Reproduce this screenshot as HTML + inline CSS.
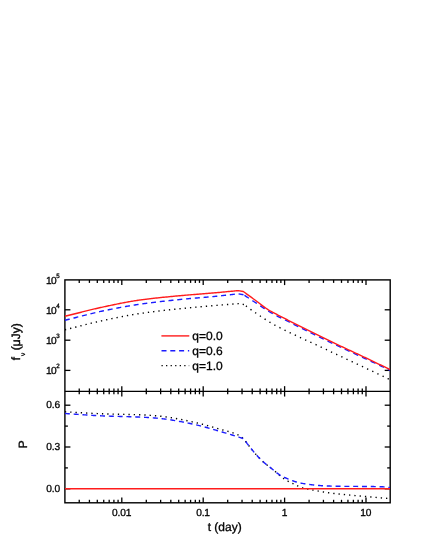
<!DOCTYPE html><html><head><meta charset="utf-8"><style>html,body{margin:0;padding:0;background:#fff}body{width:432px;height:559px;position:relative;overflow:hidden;font-family:"Liberation Sans",sans-serif}</style></head><body><svg width="432" height="559" viewBox="0 0 432 559" style="position:absolute;left:0;top:0;will-change:transform">
<g stroke="#000" stroke-width="1.4" fill="none" stroke-linecap="butt">
<rect x="64.9" y="279.9" width="325.30" height="222.90"/>
<line x1="64.9" y1="391.35" x2="390.2" y2="391.35" stroke-width="1.1"/>
</g>
<g stroke="#000" stroke-width="1.3" fill="none">
<line x1="79.24" y1="279.9" x2="79.24" y2="282.9"/>
<line x1="79.24" y1="388.45000000000005" x2="79.24" y2="394.25"/>
<line x1="79.24" y1="502.8" x2="79.24" y2="499.8"/>
<line x1="89.41" y1="279.9" x2="89.41" y2="282.9"/>
<line x1="89.41" y1="388.45000000000005" x2="89.41" y2="394.25"/>
<line x1="89.41" y1="502.8" x2="89.41" y2="499.8"/>
<line x1="97.30" y1="279.9" x2="97.30" y2="282.9"/>
<line x1="97.30" y1="388.45000000000005" x2="97.30" y2="394.25"/>
<line x1="97.30" y1="502.8" x2="97.30" y2="499.8"/>
<line x1="103.74" y1="279.9" x2="103.74" y2="282.9"/>
<line x1="103.74" y1="388.45000000000005" x2="103.74" y2="394.25"/>
<line x1="103.74" y1="502.8" x2="103.74" y2="499.8"/>
<line x1="109.19" y1="279.9" x2="109.19" y2="282.9"/>
<line x1="109.19" y1="388.45000000000005" x2="109.19" y2="394.25"/>
<line x1="109.19" y1="502.8" x2="109.19" y2="499.8"/>
<line x1="113.91" y1="279.9" x2="113.91" y2="282.9"/>
<line x1="113.91" y1="388.45000000000005" x2="113.91" y2="394.25"/>
<line x1="113.91" y1="502.8" x2="113.91" y2="499.8"/>
<line x1="118.08" y1="279.9" x2="118.08" y2="282.9"/>
<line x1="118.08" y1="388.45000000000005" x2="118.08" y2="394.25"/>
<line x1="118.08" y1="502.8" x2="118.08" y2="499.8"/>
<line x1="121.80" y1="279.9" x2="121.80" y2="285.09999999999997"/>
<line x1="121.80" y1="386.15000000000003" x2="121.80" y2="396.55"/>
<line x1="121.80" y1="502.8" x2="121.80" y2="497.6"/>
<line x1="146.30" y1="279.9" x2="146.30" y2="282.9"/>
<line x1="146.30" y1="388.45000000000005" x2="146.30" y2="394.25"/>
<line x1="146.30" y1="502.8" x2="146.30" y2="499.8"/>
<line x1="160.64" y1="279.9" x2="160.64" y2="282.9"/>
<line x1="160.64" y1="388.45000000000005" x2="160.64" y2="394.25"/>
<line x1="160.64" y1="502.8" x2="160.64" y2="499.8"/>
<line x1="170.81" y1="279.9" x2="170.81" y2="282.9"/>
<line x1="170.81" y1="388.45000000000005" x2="170.81" y2="394.25"/>
<line x1="170.81" y1="502.8" x2="170.81" y2="499.8"/>
<line x1="178.70" y1="279.9" x2="178.70" y2="282.9"/>
<line x1="178.70" y1="388.45000000000005" x2="178.70" y2="394.25"/>
<line x1="178.70" y1="502.8" x2="178.70" y2="499.8"/>
<line x1="185.14" y1="279.9" x2="185.14" y2="282.9"/>
<line x1="185.14" y1="388.45000000000005" x2="185.14" y2="394.25"/>
<line x1="185.14" y1="502.8" x2="185.14" y2="499.8"/>
<line x1="190.59" y1="279.9" x2="190.59" y2="282.9"/>
<line x1="190.59" y1="388.45000000000005" x2="190.59" y2="394.25"/>
<line x1="190.59" y1="502.8" x2="190.59" y2="499.8"/>
<line x1="195.31" y1="279.9" x2="195.31" y2="282.9"/>
<line x1="195.31" y1="388.45000000000005" x2="195.31" y2="394.25"/>
<line x1="195.31" y1="502.8" x2="195.31" y2="499.8"/>
<line x1="199.48" y1="279.9" x2="199.48" y2="282.9"/>
<line x1="199.48" y1="388.45000000000005" x2="199.48" y2="394.25"/>
<line x1="199.48" y1="502.8" x2="199.48" y2="499.8"/>
<line x1="203.20" y1="279.9" x2="203.20" y2="285.09999999999997"/>
<line x1="203.20" y1="386.15000000000003" x2="203.20" y2="396.55"/>
<line x1="203.20" y1="502.8" x2="203.20" y2="497.6"/>
<line x1="227.70" y1="279.9" x2="227.70" y2="282.9"/>
<line x1="227.70" y1="388.45000000000005" x2="227.70" y2="394.25"/>
<line x1="227.70" y1="502.8" x2="227.70" y2="499.8"/>
<line x1="242.04" y1="279.9" x2="242.04" y2="282.9"/>
<line x1="242.04" y1="388.45000000000005" x2="242.04" y2="394.25"/>
<line x1="242.04" y1="502.8" x2="242.04" y2="499.8"/>
<line x1="252.21" y1="279.9" x2="252.21" y2="282.9"/>
<line x1="252.21" y1="388.45000000000005" x2="252.21" y2="394.25"/>
<line x1="252.21" y1="502.8" x2="252.21" y2="499.8"/>
<line x1="260.10" y1="279.9" x2="260.10" y2="282.9"/>
<line x1="260.10" y1="388.45000000000005" x2="260.10" y2="394.25"/>
<line x1="260.10" y1="502.8" x2="260.10" y2="499.8"/>
<line x1="266.54" y1="279.9" x2="266.54" y2="282.9"/>
<line x1="266.54" y1="388.45000000000005" x2="266.54" y2="394.25"/>
<line x1="266.54" y1="502.8" x2="266.54" y2="499.8"/>
<line x1="271.99" y1="279.9" x2="271.99" y2="282.9"/>
<line x1="271.99" y1="388.45000000000005" x2="271.99" y2="394.25"/>
<line x1="271.99" y1="502.8" x2="271.99" y2="499.8"/>
<line x1="276.71" y1="279.9" x2="276.71" y2="282.9"/>
<line x1="276.71" y1="388.45000000000005" x2="276.71" y2="394.25"/>
<line x1="276.71" y1="502.8" x2="276.71" y2="499.8"/>
<line x1="280.88" y1="279.9" x2="280.88" y2="282.9"/>
<line x1="280.88" y1="388.45000000000005" x2="280.88" y2="394.25"/>
<line x1="280.88" y1="502.8" x2="280.88" y2="499.8"/>
<line x1="284.60" y1="279.9" x2="284.60" y2="285.09999999999997"/>
<line x1="284.60" y1="386.15000000000003" x2="284.60" y2="396.55"/>
<line x1="284.60" y1="502.8" x2="284.60" y2="497.6"/>
<line x1="309.10" y1="279.9" x2="309.10" y2="282.9"/>
<line x1="309.10" y1="388.45000000000005" x2="309.10" y2="394.25"/>
<line x1="309.10" y1="502.8" x2="309.10" y2="499.8"/>
<line x1="323.44" y1="279.9" x2="323.44" y2="282.9"/>
<line x1="323.44" y1="388.45000000000005" x2="323.44" y2="394.25"/>
<line x1="323.44" y1="502.8" x2="323.44" y2="499.8"/>
<line x1="333.61" y1="279.9" x2="333.61" y2="282.9"/>
<line x1="333.61" y1="388.45000000000005" x2="333.61" y2="394.25"/>
<line x1="333.61" y1="502.8" x2="333.61" y2="499.8"/>
<line x1="341.50" y1="279.9" x2="341.50" y2="282.9"/>
<line x1="341.50" y1="388.45000000000005" x2="341.50" y2="394.25"/>
<line x1="341.50" y1="502.8" x2="341.50" y2="499.8"/>
<line x1="347.94" y1="279.9" x2="347.94" y2="282.9"/>
<line x1="347.94" y1="388.45000000000005" x2="347.94" y2="394.25"/>
<line x1="347.94" y1="502.8" x2="347.94" y2="499.8"/>
<line x1="353.39" y1="279.9" x2="353.39" y2="282.9"/>
<line x1="353.39" y1="388.45000000000005" x2="353.39" y2="394.25"/>
<line x1="353.39" y1="502.8" x2="353.39" y2="499.8"/>
<line x1="358.11" y1="279.9" x2="358.11" y2="282.9"/>
<line x1="358.11" y1="388.45000000000005" x2="358.11" y2="394.25"/>
<line x1="358.11" y1="502.8" x2="358.11" y2="499.8"/>
<line x1="362.28" y1="279.9" x2="362.28" y2="282.9"/>
<line x1="362.28" y1="388.45000000000005" x2="362.28" y2="394.25"/>
<line x1="362.28" y1="502.8" x2="362.28" y2="499.8"/>
<line x1="366.00" y1="279.9" x2="366.00" y2="285.09999999999997"/>
<line x1="366.00" y1="386.15000000000003" x2="366.00" y2="396.55"/>
<line x1="366.00" y1="502.8" x2="366.00" y2="497.6"/>
<line x1="64.9" y1="309.80" x2="70.4" y2="309.80"/>
<line x1="390.2" y1="309.80" x2="384.7" y2="309.80"/>
<line x1="64.9" y1="340.20" x2="70.4" y2="340.20"/>
<line x1="390.2" y1="340.20" x2="384.7" y2="340.20"/>
<line x1="64.9" y1="370.40" x2="70.4" y2="370.40"/>
<line x1="390.2" y1="370.40" x2="384.7" y2="370.40"/>
<line x1="64.9" y1="405.20" x2="70.4" y2="405.20"/>
<line x1="390.2" y1="405.20" x2="384.7" y2="405.20"/>
<line x1="64.9" y1="426.10" x2="67.9" y2="426.10"/>
<line x1="390.2" y1="426.10" x2="387.2" y2="426.10"/>
<line x1="64.9" y1="447.00" x2="70.4" y2="447.00"/>
<line x1="390.2" y1="447.00" x2="384.7" y2="447.00"/>
<line x1="64.9" y1="467.90" x2="67.9" y2="467.90"/>
<line x1="390.2" y1="467.90" x2="387.2" y2="467.90"/>
<line x1="64.9" y1="488.80" x2="70.4" y2="488.80"/>
<line x1="390.2" y1="488.80" x2="384.7" y2="488.80"/>
</g>
<clipPath id="c1"><rect x="64.9" y="279.9" width="325.30" height="111.45"/></clipPath>
<clipPath id="c2"><rect x="64.9" y="391.35" width="325.30" height="111.45"/></clipPath>
<g clip-path="url(#c1)" fill="none" stroke-width="1.4" stroke-linejoin="round">
<path d="M64.90,329.80 L65.92,329.55 L66.94,329.30 L67.96,329.05 L68.98,328.79 L69.99,328.54 L71.01,328.28 L72.03,328.03 L73.05,327.77 L74.07,327.51 L75.09,327.25 L76.11,326.99 L77.13,326.73 L78.15,326.48 L79.16,326.22 L80.18,325.96 L81.20,325.70 L82.22,325.44 L83.24,325.18 L84.26,324.93 L85.28,324.67 L86.30,324.42 L87.32,324.16 L88.34,323.91 L89.35,323.66 L90.37,323.41 L91.39,323.17 L92.41,322.92 L93.43,322.68 L94.45,322.44 L95.47,322.20 L96.49,321.96 L97.51,321.73 L98.52,321.50 L99.54,321.27 L100.56,321.04 L101.58,320.82 L102.60,320.60 L103.61,320.38 L104.62,320.17 L105.63,319.95 L106.64,319.74 L107.65,319.53 L108.66,319.31 L109.68,319.10 L110.69,318.89 L111.70,318.68 L112.71,318.47 L113.72,318.26 L114.73,318.05 L115.74,317.85 L116.75,317.64 L117.76,317.44 L118.77,317.24 L119.78,317.04 L120.79,316.84 L121.81,316.64 L122.82,316.45 L123.83,316.26 L124.84,316.06 L125.85,315.88 L126.86,315.69 L127.87,315.50 L128.88,315.32 L129.89,315.14 L130.90,314.97 L131.91,314.79 L132.92,314.62 L133.94,314.45 L134.95,314.29 L135.96,314.12 L136.97,313.96 L137.98,313.80 L138.99,313.65 L140.00,313.50 L141.00,313.35 L142.00,313.21 L143.00,313.07 L144.00,312.93 L145.00,312.79 L146.00,312.65 L147.00,312.51 L148.00,312.38 L149.00,312.25 L150.00,312.11 L151.00,311.99 L152.00,311.86 L153.00,311.73 L154.00,311.61 L155.00,311.48 L156.00,311.36 L157.00,311.24 L158.00,311.12 L159.00,311.00 L160.00,310.88 L161.00,310.76 L162.00,310.65 L163.00,310.53 L164.00,310.42 L165.00,310.31 L166.00,310.19 L167.00,310.08 L168.00,309.97 L169.00,309.86 L170.00,309.76 L171.00,309.65 L172.00,309.54 L173.00,309.43 L174.00,309.33 L175.00,309.22 L176.00,309.12 L177.00,309.01 L178.00,308.91 L179.00,308.80 L180.00,308.70 L181.00,308.60 L182.00,308.49 L183.00,308.39 L184.00,308.29 L185.00,308.19 L186.00,308.10 L187.00,308.00 L188.00,307.90 L189.00,307.81 L190.00,307.71 L191.00,307.62 L192.00,307.52 L193.00,307.43 L194.00,307.34 L195.00,307.24 L196.00,307.15 L197.00,307.06 L198.00,306.97 L199.00,306.88 L200.00,306.79 L201.00,306.70 L202.00,306.62 L203.00,306.53 L204.00,306.44 L205.00,306.35 L206.00,306.27 L207.00,306.18 L208.00,306.10 L209.00,306.01 L210.00,305.92 L211.00,305.84 L212.00,305.75 L213.00,305.67 L214.00,305.58 L215.00,305.50 L216.01,305.41 L217.02,305.33 L218.04,305.25 L219.05,305.16 L220.06,305.08 L221.07,305.00 L222.08,304.92 L223.10,304.84 L224.11,304.76 L225.12,304.68 L226.13,304.60 L227.14,304.52 L228.16,304.44 L229.17,304.37 L230.18,304.29 L231.19,304.21 L232.20,304.13 L233.22,304.05 L234.23,303.97 L235.24,303.90 L236.25,303.82 L237.26,303.74 L238.28,303.66 L239.29,303.58 L240.30,303.50 L244.30,304.70" stroke="#000" stroke-dasharray="1.3 4.0"/>
<path d="M244.30,304.70 L245.35,305.49 L246.40,306.28 L247.45,307.07 L248.50,307.86 L249.55,308.64 L250.60,309.40 L251.64,310.14 L252.68,310.87 L253.72,311.59 L254.76,312.30 L255.80,313.00 L256.82,313.69 L257.84,314.38 L258.86,315.08 L259.88,315.77 L260.90,316.47 L261.92,317.16 L262.94,317.84 L263.96,318.52 L264.98,319.20 L266.00,319.86 L267.02,320.51 L268.04,321.16 L269.06,321.79 L270.08,322.40 L271.10,323.00 L272.14,323.60 L273.18,324.18 L274.22,324.75 L275.26,325.31 L276.30,325.87 L277.34,326.41 L278.38,326.95 L279.42,327.48 L280.46,328.01 L281.50,328.53 L282.54,329.04 L283.58,329.56 L284.62,330.07 L285.66,330.59 L286.70,331.10 L287.71,331.60 L288.72,332.09 L289.73,332.58 L290.74,333.07 L291.75,333.55 L292.75,334.03 L293.76,334.51 L294.77,334.99 L295.78,335.46 L296.79,335.93 L297.80,336.40 L298.81,336.87 L299.82,337.33 L300.83,337.80 L301.84,338.26 L302.85,338.72 L303.85,339.19 L304.86,339.65 L305.87,340.11 L306.88,340.57 L307.89,341.03 L308.90,341.49 L309.91,341.95 L310.92,342.41 L311.93,342.87 L312.94,343.33 L313.95,343.79 L314.95,344.26 L315.96,344.72 L316.97,345.19 L317.98,345.66 L318.99,346.13 L320.00,346.60 L321.00,347.07 L322.00,347.54 L323.00,348.01 L324.00,348.48 L325.00,348.95 L326.00,349.42 L327.00,349.89 L328.00,350.37 L329.00,350.84 L330.00,351.31 L331.00,351.78 L332.00,352.26 L333.00,352.73 L334.00,353.20 L335.00,353.68 L336.00,354.15 L337.00,354.62 L338.00,355.09 L339.00,355.57 L340.00,356.04 L341.00,356.51 L342.00,356.98 L343.00,357.46 L344.00,357.93 L345.00,358.40 L346.01,358.88 L347.02,359.35 L348.03,359.83 L349.04,360.30 L350.05,360.78 L351.06,361.25 L352.07,361.72 L353.08,362.20 L354.09,362.67 L355.10,363.14 L356.11,363.62 L357.12,364.09 L358.13,364.56 L359.14,365.04 L360.15,365.51 L361.16,365.98 L362.17,366.46 L363.18,366.93 L364.19,367.40 L365.20,367.88 L366.21,368.35 L367.22,368.82 L368.23,369.30 L369.24,369.77 L370.25,370.25 L371.26,370.72 L372.27,371.19 L373.28,371.67 L374.29,372.14 L375.30,372.62 L376.31,373.10 L377.32,373.57 L378.33,374.05 L379.34,374.53 L380.35,375.00 L381.36,375.48 L382.37,375.96 L383.38,376.44 L384.39,376.92 L385.40,377.40 L386.60,377.97 L387.80,378.55 L389.00,379.12 L390.20,379.70" stroke="#000" stroke-dasharray="1.3 4.4" stroke-dashoffset="-2"/>
<path d="M64.90,320.30 L65.92,320.05 L66.94,319.79 L67.96,319.54 L68.98,319.28 L69.99,319.02 L71.01,318.76 L72.03,318.50 L73.05,318.24 L74.07,317.97 L75.09,317.71 L76.11,317.45 L77.13,317.18 L78.15,316.92 L79.16,316.66 L80.18,316.39 L81.20,316.13 L82.22,315.87 L83.24,315.60 L84.26,315.34 L85.28,315.08 L86.30,314.83 L87.32,314.57 L88.34,314.31 L89.35,314.06 L90.37,313.81 L91.39,313.56 L92.41,313.31 L93.43,313.07 L94.45,312.82 L95.47,312.58 L96.49,312.35 L97.51,312.11 L98.52,311.88 L99.54,311.66 L100.56,311.43 L101.58,311.22 L102.60,311.00 L103.61,310.79 L104.62,310.58 L105.63,310.37 L106.64,310.16 L107.65,309.95 L108.66,309.75 L109.68,309.54 L110.69,309.34 L111.70,309.14 L112.71,308.94 L113.72,308.74 L114.73,308.54 L115.74,308.34 L116.75,308.15 L117.76,307.95 L118.77,307.76 L119.78,307.57 L120.79,307.38 L121.81,307.20 L122.82,307.01 L123.83,306.83 L124.84,306.65 L125.85,306.47 L126.86,306.29 L127.87,306.12 L128.88,305.95 L129.89,305.77 L130.90,305.61 L131.91,305.44 L132.92,305.28 L133.94,305.12 L134.95,304.96 L135.96,304.80 L136.97,304.65 L137.98,304.49 L138.99,304.35 L140.00,304.20 L141.00,304.06 L142.00,303.92 L143.00,303.78 L144.00,303.64 L145.00,303.51 L146.00,303.37 L147.00,303.24 L148.00,303.11 L149.00,302.98 L150.00,302.85 L151.00,302.72 L152.00,302.60 L153.00,302.47 L154.00,302.35 L155.00,302.23 L156.00,302.11 L157.00,301.99 L158.00,301.87 L159.00,301.75 L160.00,301.64 L161.00,301.52 L162.00,301.41 L163.00,301.30 L164.00,301.18 L165.00,301.07 L166.00,300.96 L167.00,300.85 L168.00,300.75 L169.00,300.64 L170.00,300.53 L171.00,300.43 L172.00,300.32 L173.00,300.22 L174.00,300.11 L175.00,300.01 L176.00,299.91 L177.00,299.80 L178.00,299.70 L179.00,299.60 L180.00,299.50 L181.00,299.40 L182.00,299.30 L183.00,299.21 L184.00,299.11 L185.00,299.02 L186.00,298.93 L187.00,298.84 L188.00,298.75 L189.00,298.66 L190.00,298.57 L191.00,298.49 L192.00,298.40 L193.00,298.32 L194.00,298.24 L195.00,298.15 L196.00,298.07 L197.00,297.99 L198.00,297.90 L199.00,297.82 L200.00,297.74 L201.00,297.65 L202.00,297.57 L203.00,297.49 L204.00,297.40 L205.00,297.32 L206.00,297.23 L207.00,297.14 L208.00,297.06 L209.00,296.97 L210.00,296.88 L211.00,296.78 L212.00,296.69 L213.00,296.60 L214.00,296.50 L215.00,296.40 L216.01,296.30 L217.03,296.19 L218.04,296.09 L219.05,295.98 L220.07,295.87 L221.08,295.76 L222.09,295.65 L223.10,295.54 L224.12,295.42 L225.13,295.31 L226.14,295.19 L227.16,295.08 L228.17,294.96 L229.18,294.84 L230.20,294.73 L231.21,294.61 L232.22,294.49 L233.23,294.38 L234.25,294.26 L235.26,294.14 L236.27,294.03 L237.29,293.91 L238.30,293.80 L243.60,294.80" stroke="#1c1cff" stroke-dasharray="5.0 3.8"/>
<path d="M243.60,294.80 L244.63,295.46 L245.67,296.13 L246.70,296.80 L247.81,297.53 L248.92,298.26 L250.04,299.00 L251.15,299.73 L252.26,300.47 L253.38,301.22 L254.49,301.96 L255.60,302.70 L256.70,303.44 L257.80,304.18 L258.90,304.93 L260.00,305.68 L261.10,306.42 L262.20,307.16 L263.30,307.89 L264.40,308.60 L265.40,309.24 L266.40,309.88 L267.40,310.51 L268.40,311.13 L269.40,311.74 L270.40,312.34 L271.40,312.93 L272.40,313.50 L273.45,314.08 L274.49,314.65 L275.54,315.21 L276.59,315.75 L277.64,316.29 L278.68,316.83 L279.73,317.35 L280.78,317.87 L281.82,318.39 L282.87,318.90 L283.92,319.41 L284.96,319.92 L286.01,320.43 L287.06,320.94 L288.11,321.46 L289.15,321.98 L290.20,322.50 L291.21,323.01 L292.22,323.52 L293.23,324.02 L294.24,324.53 L295.25,325.04 L296.25,325.55 L297.26,326.05 L298.27,326.56 L299.28,327.07 L300.29,327.58 L301.30,328.08 L302.31,328.59 L303.32,329.09 L304.33,329.60 L305.34,330.10 L306.35,330.60 L307.35,331.11 L308.36,331.61 L309.37,332.11 L310.38,332.61 L311.39,333.10 L312.40,333.60 L313.42,334.10 L314.44,334.60 L315.47,335.10 L316.49,335.60 L317.51,336.10 L318.53,336.60 L319.56,337.10 L320.58,337.59 L321.60,338.09 L322.62,338.59 L323.64,339.08 L324.67,339.57 L325.69,340.07 L326.71,340.56 L327.73,341.05 L328.76,341.54 L329.78,342.03 L330.80,342.52 L331.82,343.01 L332.84,343.50 L333.87,343.99 L334.89,344.48 L335.91,344.96 L336.93,345.45 L337.96,345.93 L338.98,346.42 L340.00,346.90 L341.00,347.37 L342.00,347.84 L343.00,348.31 L344.00,348.78 L345.00,349.25 L346.00,349.71 L347.00,350.18 L348.00,350.64 L349.00,351.10 L350.00,351.57 L351.00,352.03 L352.00,352.49 L353.00,352.95 L354.00,353.41 L355.00,353.87 L356.00,354.33 L357.00,354.80 L358.00,355.26 L359.00,355.72 L360.00,356.18 L361.00,356.64 L362.00,357.11 L363.00,357.57 L364.00,358.03 L365.00,358.50 L366.01,358.97 L367.02,359.44 L368.02,359.91 L369.03,360.38 L370.04,360.85 L371.05,361.32 L372.06,361.80 L373.06,362.27 L374.07,362.74 L375.08,363.21 L376.09,363.68 L377.10,364.16 L378.10,364.63 L379.11,365.10 L380.12,365.57 L381.13,366.05 L382.14,366.52 L383.14,366.99 L384.15,367.47 L385.16,367.94 L386.17,368.41 L387.18,368.88 L388.18,369.36 L389.19,369.83 L390.20,370.30" stroke="#1c1cff" stroke-dasharray="5.3 4.2" stroke-dashoffset="-1"/>
<path d="M64.90,316.30 L65.92,316.05 L66.94,315.80 L67.96,315.55 L68.98,315.29 L69.99,315.04 L71.01,314.78 L72.03,314.53 L73.05,314.27 L74.07,314.01 L75.09,313.75 L76.11,313.49 L77.13,313.23 L78.15,312.98 L79.16,312.72 L80.18,312.46 L81.20,312.20 L82.22,311.94 L83.24,311.68 L84.26,311.43 L85.28,311.17 L86.30,310.92 L87.32,310.66 L88.34,310.41 L89.35,310.16 L90.37,309.91 L91.39,309.67 L92.41,309.42 L93.43,309.18 L94.45,308.94 L95.47,308.70 L96.49,308.46 L97.51,308.23 L98.52,308.00 L99.54,307.77 L100.56,307.54 L101.58,307.32 L102.60,307.10 L103.61,306.88 L104.62,306.67 L105.63,306.45 L106.64,306.24 L107.65,306.02 L108.66,305.80 L109.68,305.59 L110.69,305.38 L111.70,305.16 L112.71,304.95 L113.72,304.74 L114.73,304.53 L115.74,304.32 L116.75,304.11 L117.76,303.90 L118.77,303.70 L119.78,303.50 L120.79,303.30 L121.81,303.10 L122.82,302.90 L123.83,302.70 L124.84,302.51 L125.85,302.32 L126.86,302.14 L127.87,301.95 L128.88,301.77 L129.89,301.59 L130.90,301.42 L131.91,301.24 L132.92,301.07 L133.94,300.91 L134.95,300.75 L135.96,300.59 L136.97,300.44 L137.98,300.29 L138.99,300.14 L140.00,300.00 L141.00,299.86 L142.00,299.73 L143.00,299.60 L144.00,299.47 L145.00,299.34 L146.00,299.21 L147.00,299.09 L148.00,298.97 L149.00,298.85 L150.00,298.73 L151.00,298.61 L152.00,298.50 L153.00,298.38 L154.00,298.27 L155.00,298.16 L156.00,298.05 L157.00,297.94 L158.00,297.84 L159.00,297.73 L160.00,297.63 L161.00,297.53 L162.00,297.42 L163.00,297.32 L164.00,297.22 L165.00,297.12 L166.00,297.02 L167.00,296.93 L168.00,296.83 L169.00,296.73 L170.00,296.64 L171.00,296.54 L172.00,296.45 L173.00,296.35 L174.00,296.26 L175.00,296.17 L176.00,296.07 L177.00,295.98 L178.00,295.89 L179.00,295.79 L180.00,295.70 L181.00,295.61 L182.00,295.52 L183.00,295.43 L184.00,295.34 L185.00,295.25 L186.00,295.16 L187.00,295.08 L188.00,295.00 L189.00,294.91 L190.00,294.83 L191.00,294.75 L192.00,294.67 L193.00,294.59 L194.00,294.51 L195.00,294.43 L196.00,294.35 L197.00,294.27 L198.00,294.19 L199.00,294.11 L200.00,294.03 L201.00,293.95 L202.00,293.88 L203.00,293.80 L204.00,293.72 L205.00,293.64 L206.00,293.56 L207.00,293.48 L208.00,293.39 L209.00,293.31 L210.00,293.23 L211.00,293.15 L212.00,293.06 L213.00,292.97 L214.00,292.89 L215.00,292.80 L216.01,292.71 L217.03,292.62 L218.04,292.53 L219.05,292.43 L220.07,292.34 L221.08,292.25 L222.09,292.15 L223.10,292.05 L224.12,291.96 L225.13,291.86 L226.14,291.77 L227.16,291.67 L228.17,291.57 L229.18,291.47 L230.20,291.38 L231.21,291.28 L232.22,291.18 L233.23,291.08 L234.25,290.99 L235.26,290.89 L236.27,290.79 L237.29,290.70 L238.30,290.60 L243.30,291.50 L244.36,292.27 L245.43,293.04 L246.49,293.81 L247.55,294.59 L248.62,295.36 L249.68,296.13 L250.75,296.90 L251.81,297.67 L252.87,298.45 L253.94,299.22 L255.00,300.00 L256.00,300.74 L257.00,301.50 L258.00,302.26 L259.00,303.04 L260.00,303.81 L261.00,304.59 L262.00,305.36 L263.00,306.11 L264.00,306.86 L265.00,307.58 L266.00,308.28 L267.00,308.96 L268.00,309.60 L269.20,310.32 L270.40,311.00 L271.60,311.65 L272.80,312.30 L273.82,312.85 L274.85,313.40 L275.87,313.95 L276.89,314.49 L277.92,315.02 L278.94,315.56 L279.96,316.08 L280.99,316.61 L282.01,317.14 L283.04,317.66 L284.06,318.18 L285.08,318.70 L286.11,319.22 L287.13,319.74 L288.15,320.26 L289.18,320.78 L290.20,321.30 L291.21,321.81 L292.22,322.32 L293.23,322.84 L294.24,323.35 L295.25,323.86 L296.25,324.36 L297.26,324.87 L298.27,325.38 L299.28,325.88 L300.29,326.39 L301.30,326.89 L302.31,327.40 L303.32,327.90 L304.33,328.40 L305.34,328.90 L306.35,329.41 L307.35,329.91 L308.36,330.41 L309.37,330.91 L310.38,331.40 L311.39,331.90 L312.40,332.40 L313.42,332.90 L314.44,333.41 L315.47,333.91 L316.49,334.41 L317.51,334.91 L318.53,335.41 L319.56,335.92 L320.58,336.42 L321.60,336.92 L322.62,337.41 L323.64,337.91 L324.67,338.41 L325.69,338.91 L326.71,339.41 L327.73,339.90 L328.76,340.40 L329.78,340.89 L330.80,341.39 L331.82,341.88 L332.84,342.37 L333.87,342.86 L334.89,343.35 L335.91,343.85 L336.93,344.34 L337.96,344.82 L338.98,345.31 L340.00,345.80 L341.00,346.28 L342.00,346.75 L343.00,347.22 L344.00,347.69 L345.00,348.16 L346.00,348.63 L347.00,349.10 L348.00,349.56 L349.00,350.03 L350.00,350.50 L351.00,350.96 L352.00,351.43 L353.00,351.89 L354.00,352.35 L355.00,352.82 L356.00,353.28 L357.00,353.75 L358.00,354.21 L359.00,354.68 L360.00,355.15 L361.00,355.62 L362.00,356.08 L363.00,356.56 L364.00,357.03 L365.00,357.50 L366.01,357.98 L367.02,358.46 L368.02,358.94 L369.03,359.42 L370.04,359.90 L371.05,360.38 L372.06,360.87 L373.06,361.35 L374.07,361.83 L375.08,362.32 L376.09,362.80 L377.10,363.29 L378.10,363.77 L379.11,364.26 L380.12,364.75 L381.13,365.23 L382.14,365.72 L383.14,366.20 L384.15,366.69 L385.16,367.18 L386.17,367.66 L387.18,368.15 L388.18,368.63 L389.19,369.12 L390.20,369.60" stroke="#ff1c1c"/>
</g>
<g clip-path="url(#c2)" fill="none" stroke-width="1.4" stroke-linejoin="round">
<path d="M64.90,411.80 L65.92,411.85 L66.94,411.91 L67.96,411.97 L68.98,412.02 L69.99,412.08 L71.01,412.14 L72.03,412.20 L73.05,412.26 L74.07,412.32 L75.09,412.38 L76.11,412.44 L77.13,412.50 L78.15,412.56 L79.16,412.62 L80.18,412.68 L81.20,412.73 L82.22,412.79 L83.24,412.85 L84.26,412.91 L85.28,412.97 L86.30,413.03 L87.32,413.08 L88.34,413.14 L89.35,413.19 L90.37,413.25 L91.39,413.30 L92.41,413.35 L93.43,413.41 L94.45,413.46 L95.47,413.50 L96.49,413.55 L97.51,413.60 L98.52,413.64 L99.54,413.68 L100.56,413.72 L101.58,413.76 L102.60,413.80 L103.61,413.84 L104.62,413.87 L105.63,413.90 L106.64,413.93 L107.65,413.96 L108.66,413.99 L109.68,414.02 L110.69,414.04 L111.70,414.07 L112.71,414.09 L113.72,414.11 L114.73,414.14 L115.74,414.16 L116.75,414.18 L117.76,414.20 L118.77,414.22 L119.78,414.25 L120.79,414.27 L121.81,414.29 L122.82,414.31 L123.83,414.33 L124.84,414.35 L125.85,414.38 L126.86,414.40 L127.87,414.42 L128.88,414.45 L129.89,414.47 L130.90,414.50 L131.91,414.53 L132.92,414.56 L133.94,414.59 L134.95,414.62 L135.96,414.65 L136.97,414.69 L137.98,414.72 L138.99,414.76 L140.00,414.80 L141.02,414.84 L142.04,414.89 L143.06,414.94 L144.08,414.99 L145.10,415.04 L146.12,415.10 L147.14,415.16 L148.16,415.22 L149.18,415.29 L150.20,415.36 L151.22,415.43 L152.24,415.50 L153.26,415.58 L154.28,415.66 L155.30,415.74 L156.32,415.83 L157.34,415.92 L158.36,416.01 L159.38,416.10 L160.40,416.20 L161.43,416.30 L162.46,416.42 L163.49,416.54 L164.53,416.68 L165.56,416.82 L166.59,416.97 L167.62,417.12 L168.65,417.28 L169.68,417.45 L170.72,417.62 L171.75,417.80 L172.78,417.98 L173.81,418.17 L174.84,418.35 L175.87,418.54 L176.91,418.73 L177.94,418.92 L178.97,419.11 L180.00,419.30 L181.02,419.49 L182.03,419.68 L183.05,419.88 L184.06,420.08 L185.08,420.29 L186.09,420.50 L187.11,420.71 L188.13,420.93 L189.14,421.15 L190.16,421.37 L191.17,421.60 L192.19,421.83 L193.21,422.06 L194.22,422.29 L195.24,422.53 L196.25,422.77 L197.27,423.01 L198.28,423.25 L199.30,423.50 L200.34,423.75 L201.37,424.01 L202.41,424.27 L203.45,424.54 L204.48,424.81 L205.52,425.08 L206.56,425.36 L207.59,425.64 L208.63,425.92 L209.67,426.21 L210.71,426.50 L211.74,426.79 L212.78,427.08 L213.82,427.38 L214.85,427.68 L215.89,427.98 L216.93,428.29 L217.96,428.59 L219.00,428.90 L220.00,429.19 L221.00,429.47 L222.00,429.75 L223.00,430.02 L224.00,430.29 L225.00,430.55 L226.00,430.82 L227.00,431.09 L228.00,431.37 L229.00,431.65 L230.00,431.95 L231.00,432.25 L232.00,432.57 L233.00,432.91 L234.00,433.27 L235.00,433.64 L236.00,434.04 L237.00,434.47 L238.00,434.92 L239.00,435.40 L240.12,436.04 L241.25,436.84 L242.38,437.77 L243.50,438.80 L244.70,440.13 L245.90,441.71 L247.10,443.39 L248.30,445.00 L249.42,446.42 L250.53,447.85 L251.65,449.26 L252.77,450.65 L253.88,452.00 L255.00,453.30 L256.01,454.44 L257.02,455.56 L258.04,456.65 L259.05,457.72 L260.06,458.77 L261.08,459.78 L262.09,460.76 L263.10,461.70 L264.14,462.63 L265.19,463.52 L266.23,464.37 L267.28,465.20 L268.32,466.02 L269.37,466.83 L270.41,467.64 L271.46,468.46 L272.50,469.30 L273.62,470.22 L274.75,471.13 L275.88,472.06 L277.00,473.00 L278.16,474.03 L279.32,475.12 L280.48,476.21 L281.64,477.22 L282.80,478.10 L283.82,478.77 L284.84,479.40 L285.87,480.00 L286.89,480.55 L287.91,481.09 L288.93,481.60 L289.96,482.11 L290.98,482.60 L292.00,483.10 L293.01,483.60 L294.02,484.10 L295.03,484.61 L296.04,485.11 L297.05,485.60 L298.05,486.07 L299.06,486.53 L300.07,486.95 L301.08,487.34 L302.09,487.69 L303.10,488.00 L304.12,488.27 L305.14,488.53 L306.15,488.76 L307.17,488.98 L308.19,489.18 L309.21,489.37 L310.23,489.56 L311.25,489.74 L312.26,489.93 L313.28,490.11 L314.30,490.30 L315.33,490.49 L316.36,490.69 L317.39,490.88 L318.41,491.07 L319.44,491.26 L320.47,491.45 L321.50,491.63 L322.53,491.81 L323.56,491.99 L324.59,492.16 L325.61,492.33 L326.64,492.49 L327.67,492.65 L328.70,492.80 L329.75,492.95 L330.80,493.09 L331.85,493.23 L332.90,493.36 L333.95,493.48 L335.00,493.60 L336.00,493.71 L337.00,493.82 L338.00,493.93 L339.00,494.03 L340.00,494.14 L341.00,494.24 L342.00,494.34 L343.00,494.44 L344.00,494.54 L345.00,494.64 L346.00,494.74 L347.00,494.84 L348.00,494.93 L349.00,495.03 L350.00,495.12 L351.00,495.21 L352.00,495.30 L353.00,495.40 L354.00,495.49 L355.00,495.58 L356.00,495.67 L357.00,495.75 L358.00,495.84 L359.00,495.93 L360.00,496.02 L361.00,496.10 L362.00,496.19 L363.00,496.28 L364.00,496.36 L365.00,496.45 L366.00,496.53 L367.00,496.62 L368.00,496.71 L369.00,496.79 L370.00,496.88 L371.00,496.96 L372.00,497.05 L373.00,497.14 L374.00,497.22 L375.00,497.31 L376.00,497.40 L377.00,497.48 L378.00,497.57 L379.00,497.66 L380.00,497.75 L381.00,497.84 L382.00,497.93 L383.00,498.02 L384.00,498.11 L385.00,498.21 L386.00,498.30 L387.05,498.40 L388.10,498.50 L389.15,498.60 L390.20,498.70" stroke="#000" stroke-dasharray="1.3 4.0"/>
<path d="M64.90,413.50 L65.92,413.57 L66.94,413.63 L67.96,413.70 L68.98,413.77 L69.99,413.84 L71.01,413.91 L72.03,413.98 L73.05,414.05 L74.07,414.12 L75.09,414.19 L76.11,414.26 L77.13,414.33 L78.15,414.41 L79.16,414.48 L80.18,414.55 L81.20,414.62 L82.22,414.69 L83.24,414.76 L84.26,414.83 L85.28,414.90 L86.30,414.97 L87.32,415.04 L88.34,415.11 L89.35,415.17 L90.37,415.24 L91.39,415.30 L92.41,415.37 L93.43,415.43 L94.45,415.49 L95.47,415.54 L96.49,415.60 L97.51,415.66 L98.52,415.71 L99.54,415.76 L100.56,415.81 L101.58,415.86 L102.60,415.90 L103.61,415.94 L104.62,415.98 L105.63,416.02 L106.64,416.06 L107.65,416.09 L108.66,416.13 L109.68,416.16 L110.69,416.19 L111.70,416.22 L112.71,416.25 L113.72,416.28 L114.73,416.31 L115.74,416.34 L116.75,416.37 L117.76,416.39 L118.77,416.42 L119.78,416.45 L120.79,416.47 L121.81,416.50 L122.82,416.53 L123.83,416.55 L124.84,416.58 L125.85,416.61 L126.86,416.64 L127.87,416.67 L128.88,416.70 L129.89,416.73 L130.90,416.76 L131.91,416.79 L132.92,416.82 L133.94,416.86 L134.95,416.89 L135.96,416.93 L136.97,416.97 L137.98,417.01 L138.99,417.06 L140.00,417.10 L141.02,417.15 L142.04,417.20 L143.06,417.25 L144.08,417.30 L145.10,417.36 L146.12,417.42 L147.14,417.48 L148.16,417.54 L149.18,417.61 L150.20,417.67 L151.22,417.74 L152.24,417.82 L153.26,417.89 L154.28,417.97 L155.30,418.05 L156.32,418.14 L157.34,418.22 L158.36,418.31 L159.38,418.40 L160.40,418.50 L161.43,418.60 L162.46,418.72 L163.49,418.84 L164.53,418.97 L165.56,419.10 L166.59,419.25 L167.62,419.40 L168.65,419.55 L169.68,419.71 L170.72,419.88 L171.75,420.05 L172.78,420.23 L173.81,420.40 L174.84,420.58 L175.87,420.76 L176.91,420.95 L177.94,421.13 L178.97,421.32 L180.00,421.50 L181.02,421.68 L182.03,421.87 L183.05,422.06 L184.06,422.26 L185.08,422.46 L186.09,422.66 L187.11,422.87 L188.13,423.08 L189.14,423.29 L190.16,423.51 L191.17,423.73 L192.19,423.95 L193.21,424.18 L194.22,424.41 L195.24,424.64 L196.25,424.88 L197.27,425.12 L198.28,425.36 L199.30,425.60 L200.34,425.85 L201.37,426.11 L202.41,426.38 L203.45,426.65 L204.48,426.93 L205.52,427.21 L206.56,427.50 L207.59,427.79 L208.63,428.08 L209.67,428.37 L210.71,428.67 L211.74,428.97 L212.78,429.28 L213.82,429.58 L214.85,429.88 L215.89,430.19 L216.93,430.49 L217.96,430.80 L219.00,431.10 L220.00,431.39 L221.00,431.68 L222.00,431.98 L223.00,432.27 L224.00,432.57 L225.00,432.86 L226.00,433.16 L227.00,433.46 L228.00,433.76 L229.00,434.06 L230.00,434.37 L231.00,434.67 L232.00,434.98 L233.00,435.29 L234.00,435.60 L235.00,435.92 L236.00,436.23 L237.00,436.55 L238.00,436.87 L239.00,437.20 L240.27,437.58 L241.53,437.97 L242.80,438.50 L243.90,439.32 L245.00,440.56 L246.10,442.03 L247.20,443.56 L248.30,445.00 L249.42,446.38 L250.53,447.79 L251.65,449.21 L252.77,450.62 L253.88,451.99 L255.00,453.30 L256.01,454.44 L257.02,455.56 L258.04,456.65 L259.05,457.72 L260.06,458.77 L261.08,459.78 L262.09,460.76 L263.10,461.70 L264.14,462.63 L265.19,463.52 L266.23,464.39 L267.28,465.22 L268.32,466.04 L269.37,466.86 L270.41,467.66 L271.46,468.48 L272.50,469.30 L273.58,470.18 L274.67,471.09 L275.75,471.99 L276.83,472.86 L277.92,473.67 L279.00,474.40 L280.03,475.03 L281.07,475.63 L282.10,476.20 L283.13,476.74 L284.17,477.26 L285.20,477.75 L286.23,478.22 L287.27,478.67 L288.30,479.10 L289.31,479.51 L290.32,479.90 L291.33,480.29 L292.34,480.67 L293.35,481.03 L294.35,481.38 L295.36,481.71 L296.37,482.02 L297.38,482.31 L298.39,482.57 L299.40,482.80 L300.42,483.01 L301.44,483.22 L302.45,483.40 L303.47,483.58 L304.49,483.75 L305.51,483.91 L306.53,484.06 L307.55,484.20 L308.56,484.34 L309.58,484.47 L310.60,484.60 L311.61,484.72 L312.62,484.84 L313.63,484.96 L314.64,485.08 L315.65,485.19 L316.65,485.30 L317.66,485.39 L318.67,485.48 L319.68,485.57 L320.69,485.64 L321.70,485.70 L322.72,485.76 L323.75,485.81 L324.77,485.86 L325.79,485.90 L326.82,485.95 L327.84,485.99 L328.86,486.03 L329.88,486.07 L330.91,486.10 L331.93,486.13 L332.95,486.16 L333.98,486.18 L335.00,486.20 L336.01,486.22 L337.03,486.24 L338.04,486.25 L339.05,486.27 L340.07,486.28 L341.08,486.29 L342.09,486.31 L343.11,486.32 L344.12,486.33 L345.13,486.34 L346.15,486.35 L347.16,486.35 L348.17,486.36 L349.19,486.37 L350.20,486.38 L351.21,486.38 L352.23,486.39 L353.24,486.40 L354.25,486.40 L355.27,486.41 L356.28,486.41 L357.29,486.42 L358.31,486.43 L359.32,486.43 L360.33,486.44 L361.35,486.44 L362.36,486.45 L363.37,486.46 L364.39,486.47 L365.40,486.47 L366.41,486.48 L367.43,486.49 L368.44,486.50 L369.45,486.51 L370.47,486.52 L371.48,486.54 L372.49,486.55 L373.51,486.57 L374.52,486.58 L375.53,486.60 L376.55,486.62 L377.56,486.63 L378.57,486.65 L379.59,486.68 L380.60,486.70 L381.67,486.74 L382.73,486.81 L383.80,486.90 L384.87,487.01 L385.93,487.13 L387.00,487.25 L388.07,487.37 L389.13,487.49 L390.20,487.60" stroke="#1c1cff" stroke-dasharray="5.0 3.8"/>
<path d="M64.9,488.80 L390.2,488.80" stroke="#ff1c1c"/>
</g>
<g fill="none" stroke-width="1.4">
<line x1="161.4" y1="335.9" x2="189.3" y2="335.9" stroke="#ff1c1c"/>
<line x1="161.5" y1="350.8" x2="189.2" y2="350.8" stroke="#1c1cff" stroke-dasharray="5.0 3.8"/>
<line x1="161.5" y1="365.6" x2="189.2" y2="365.6" stroke="#000" stroke-dasharray="1.25 3.3"/>
</g>
<g font-family="Liberation Sans, sans-serif" fill="#000" stroke="#000" stroke-width="0.3" text-rendering="geometricPrecision">
<g font-size="12">
<text x="192.3" y="339.8">q=0.0</text>
<text x="192.3" y="354.7">q=0.6</text>
<text x="192.3" y="369.6">q=1.0</text>
</g>
<g font-size="10.2">
<text x="46.0" y="284" letter-spacing="-0.6">10</text><text x="56.3" y="278" font-size="6.2">5</text>
<text x="46.0" y="314" letter-spacing="-0.6">10</text><text x="56.3" y="308" font-size="6.2">4</text>
<text x="46.0" y="344" letter-spacing="-0.6">10</text><text x="56.3" y="338" font-size="6.2">3</text>
<text x="46.0" y="374" letter-spacing="-0.6">10</text><text x="56.3" y="368" font-size="6.2">2</text>
</g>
<g font-size="10.2" text-anchor="end" letter-spacing="-0.2">
<text x="59.9" y="408">0.6</text>
<text x="59.9" y="450">0.3</text>
<text x="59.9" y="492">0.0</text>
</g>
<g font-size="10.2" text-anchor="middle" letter-spacing="-0.2">
<text x="121.6" y="516">0.01</text>
<text x="203.0" y="516">0.1</text>
<text x="284.4" y="516">1</text>
<text x="365.8" y="516">10</text>
</g>
<text x="224.7" y="531.3" font-size="12" text-anchor="middle">t (day)</text>
<text transform="translate(19.9,360.2) rotate(-90)" font-size="12" stroke-width="0.4">f</text>
<text transform="translate(24.5,356.0) rotate(-90)" font-size="6.6" stroke-width="0.3">ν</text>
<text transform="translate(20.0,350.2) rotate(-90)" font-size="12" stroke-width="0.4">(μJy)</text>
<text transform="translate(26.9,448.3) rotate(-90)" font-size="12">P</text>
</g>
</svg></body></html>
